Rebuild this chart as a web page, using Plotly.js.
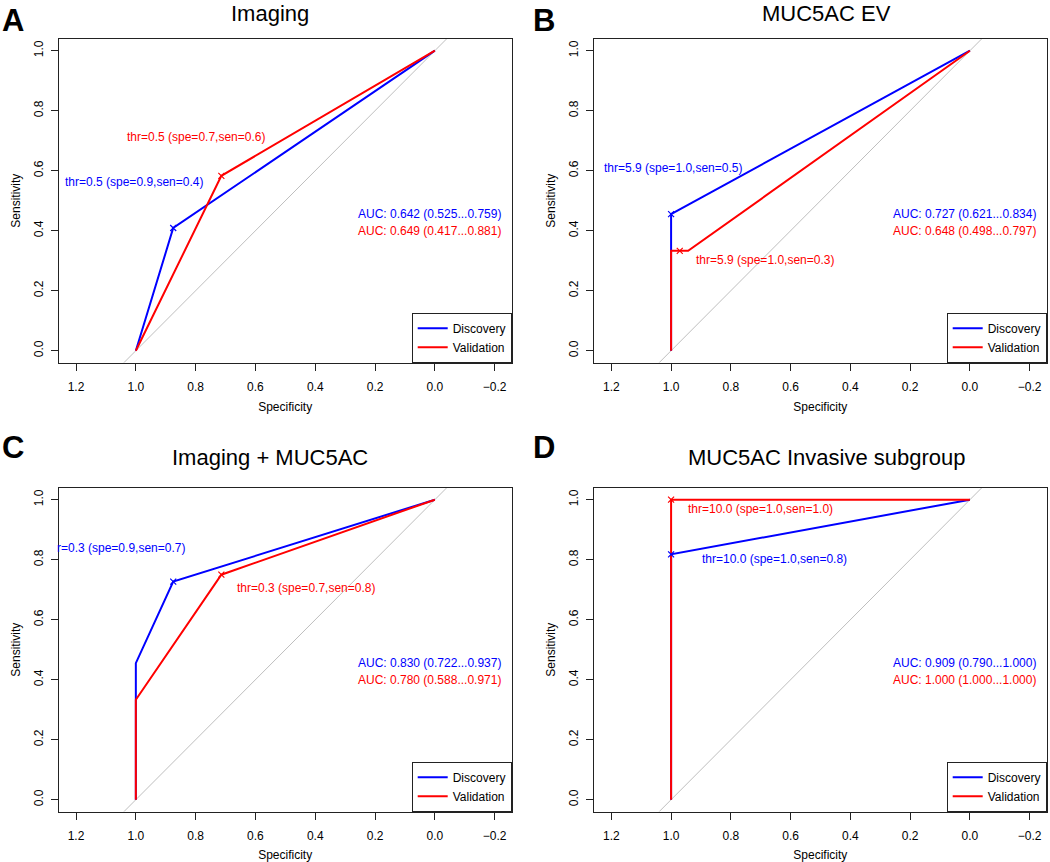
<!DOCTYPE html>
<html>
<head>
<meta charset="utf-8">
<script src="https://cdn.plot.ly/plotly-3.0.1.min.js"></script>
<style>html,body{margin:0;padding:0;background:#fff;}#chart{width:1050px;height:862px;}</style>
</head>
<body>
<div id="chart"></div>
<script>
// ---- data ----
const panelTitles = ["Imaging", "MUC5AC EV", "Imaging + MUC5AC", "MUC5AC Invasive subgroup"];
const panelLetters = ["A", "B", "C", "D"];
const seriesNames = ["Discovery", "Validation"];
const seriesColors = ["#0000FF", "#FF0000"];

// ROC curves (specificity, sensitivity)
const discSpecA = [1, 0.875, 0];
const discSensA = [0, 0.409, 1];
const valSpecA = [1, 0.714, 0];
const valSensA = [0, 0.583, 1];

const discSpecB = [1, 1, 0];
const discSensB = [0, 0.455, 1];
const valSpecB = [1, 1, 0.943, 0];
const valSensB = [0, 0.333, 0.333, 1];

const discSpecC = [1, 1, 0.875, 0];
const discSensC = [0, 0.455, 0.727, 1];
const valSpecC = [1, 1, 0.714, 0];
const valSensC = [0, 0.333, 0.75, 1];

const discSpecD = [1, 1, 0];
const discSensD = [0, 0.818, 1];
const valSpecD = [1, 1, 0];
const valSensD = [0, 1, 1];

// best thresholds [specificity, sensitivity]
const thrDisc = [[0.875, 0.409], [1, 0.455], [0.875, 0.727], [1, 0.818]];
const thrVal = [[0.714, 0.583], [0.971, 0.333], [0.714, 0.75], [1, 1]];
const thrDiscLabels = ["thr=0.5 (spe=0.9,sen=0.4)", "thr=5.9 (spe=1.0,sen=0.5)", "r=0.3 (spe=0.9,sen=0.7)", "thr=10.0 (spe=1.0,sen=0.8)"];
const thrValLabels = ["thr=0.5 (spe=0.7,sen=0.6)", "thr=5.9 (spe=1.0,sen=0.3)", "thr=0.3 (spe=0.7,sen=0.8)", "thr=10.0 (spe=1.0,sen=1.0)"];
const aucDiscLabels = ["AUC: 0.642 (0.525...0.759)", "AUC: 0.727 (0.621...0.834)", "AUC: 0.830 (0.722...0.937)", "AUC: 0.909 (0.790...1.000)"];
const aucValLabels = ["AUC: 0.649 (0.417...0.881)", "AUC: 0.648 (0.498...0.797)", "AUC: 0.780 (0.588...0.971)", "AUC: 1.000 (1.000...1.000)"];

const xTickVals = [1.2, 1.0, 0.8, 0.6, 0.4, 0.2, 0.0, -0.2];
const yTickVals = [0.0, 0.2, 0.4, 0.6, 0.8, 1.0];

// ---- layout geometry (pixels) ----
const W = 1050, H = 862;
const FONT = "Liberation Sans, Arial, Helvetica, sans-serif";
const boxes = [
  {l: 58.7, r: 511.7, t: 38.7, b: 362.7},
  {l: 594, r: 1046.7, t: 38.7, b: 362.7},
  {l: 58.7, r: 511.7, t: 487.7, b: 811.7},
  {l: 594, r: 1046.7, t: 487.7, b: 811.7}
];
// [x, y, yanchor]
const titlePos = [[270.3, 0, "top"], [826.6, 0, "top"], [270.3, 457.8, "middle"], [826.6, 457.8, "middle"]];
const letterPos = [[0, 20], [530.5, 20], [0, 447], [530.5, 447]];
// annotation anchors in data coords
const discLabelPos = [[1.242, 0.564, "left"], [1.230, 0.610, "left"], [0.829, 0.840, "right"], [0.903, 0.802, "left"]];
const valLabelPos = [[1.036, 0.712, "left"], [0.925, 0.303, "left"], [0.668, 0.707, "left"], [0.951, 0.970, "left"]];

const discSpec = [discSpecA, discSpecB, discSpecC, discSpecD];
const discSens = [discSensA, discSensB, discSensC, discSensD];
const valSpec = [valSpecA, valSpecB, valSpecC, valSpecD];
const valSens = [valSensA, valSensB, valSensC, valSensD];

const traces = [];
const layout = {
  width: W, height: H,
  margin: {l: 0, r: 0, t: 0, b: 0},
  paper_bgcolor: "#fff", plot_bgcolor: "#fff",
  font: {family: FONT, size: 12, color: "#000"},
  showlegend: true,
  annotations: [], shapes: []
};

for (let i = 0; i < 4; i++) {
  const s = i === 0 ? "" : String(i + 1);
  const xa = "x" + s, ya = "y" + s;
  const lg = "legend" + s;
  const bx = boxes[i];

  layout["xaxis" + s] = {
    domain: [bx.l / W, bx.r / W], anchor: ya,
    range: [1.258, -0.257], autorange: false,
    tickvals: xTickVals, tickformat: ".1f",
    ticks: "outside", ticklen: 7, tickwidth: 1, tickcolor: "#222",
    ticklabelstandoff: 6,
    showline: true, mirror: true, linecolor: "#222", linewidth: 1,
    showgrid: false, zeroline: false,
    tickfont: {family: FONT, size: 12, color: "#000"},
    title: {text: "Specificity", font: {family: FONT, size: 12, color: "#000"}, standoff: 9}
  };
  layout["yaxis" + s] = {
    domain: [1 - bx.b / H, 1 - bx.t / H], anchor: xa,
    range: [-0.04, 1.04], autorange: false,
    tickvals: yTickVals, tickformat: ".1f", tickangle: -90,
    ticks: "outside", ticklen: 7, tickwidth: 1, tickcolor: "#222",
    ticklabelstandoff: 3,
    showline: true, mirror: true, linecolor: "#222", linewidth: 1,
    showgrid: false, zeroline: false,
    tickfont: {family: FONT, size: 12, color: "#000"},
    title: {text: "Sensitivity", font: {family: FONT, size: 12, color: "#000"}, standoff: 8}
  };

  // chance diagonal
  layout.shapes.push({
    type: "line", xref: xa, yref: ya, layer: "below",
    x0: 1.04, y0: -0.04, x1: -0.04, y1: 1.04,
    line: {color: "#BEBEBE", width: 1}
  });

  // ROC curves
  traces.push({
    type: "scatter", mode: "lines", x: discSpec[i], y: discSens[i],
    xaxis: xa, yaxis: ya, name: seriesNames[0], legend: lg,
    line: {color: seriesColors[0], width: 2}, hoverinfo: "skip"
  });
  traces.push({
    type: "scatter", mode: "lines", x: valSpec[i], y: valSens[i],
    xaxis: xa, yaxis: ya, name: seriesNames[1], legend: lg,
    line: {color: seriesColors[1], width: 2}, hoverinfo: "skip"
  });
  // threshold markers
  traces.push({
    type: "scatter", mode: "markers", x: [thrDisc[i][0]], y: [thrDisc[i][1]],
    xaxis: xa, yaxis: ya, showlegend: false, legend: lg,
    marker: {symbol: "x-thin-open", size: 6, color: seriesColors[0], line: {color: seriesColors[0], width: 1.2}}
  });
  traces.push({
    type: "scatter", mode: "markers", x: [thrVal[i][0]], y: [thrVal[i][1]],
    xaxis: xa, yaxis: ya, showlegend: false, legend: lg,
    marker: {symbol: "x-thin-open", size: 6, color: seriesColors[1], line: {color: seriesColors[1], width: 1.2}}
  });

  // legend
  layout[lg] = {
    x: bx.r / W, y: 1 - bx.b / H, xanchor: "right", yanchor: "bottom",
    xref: "paper", yref: "paper",
    bgcolor: "#fff", bordercolor: "#222", borderwidth: 1,
    font: {family: FONT, size: 12, color: "#000"},
    itemwidth: 30, tracegroupgap: 0
  };

  // threshold labels
  layout.annotations.push({
    xref: xa, yref: ya, x: discLabelPos[i][0], y: discLabelPos[i][1],
    xanchor: discLabelPos[i][2], yanchor: "middle", showarrow: false,
    text: thrDiscLabels[i], font: {family: FONT, size: 12, color: seriesColors[0]}
  });
  layout.annotations.push({
    xref: xa, yref: ya, x: valLabelPos[i][0], y: valLabelPos[i][1],
    xanchor: valLabelPos[i][2], yanchor: "middle", showarrow: false,
    text: thrValLabels[i], font: {family: FONT, size: 12, color: seriesColors[1]}
  });
  // AUC labels
  layout.annotations.push({
    xref: xa, yref: ya, x: 0.263, y: 0.456, xanchor: "left", yanchor: "middle", showarrow: false,
    text: aucDiscLabels[i], font: {family: FONT, size: 12, color: seriesColors[0]}
  });
  layout.annotations.push({
    xref: xa, yref: ya, x: 0.263, y: 0.399, xanchor: "left", yanchor: "middle", showarrow: false,
    text: aucValLabels[i], font: {family: FONT, size: 12, color: seriesColors[1]}
  });
  // panel title
  layout.annotations.push({
    xref: "paper", yref: "paper", x: titlePos[i][0] / W, y: 1 - titlePos[i][1] / H,
    xanchor: "center", yanchor: titlePos[i][2], showarrow: false, borderpad: 0,
    text: panelTitles[i], font: {family: FONT, size: 22, color: "#000"}
  });
  // panel letter
  layout.annotations.push({
    xref: "paper", yref: "paper", x: letterPos[i][0] / W, y: 1 - letterPos[i][1] / H,
    xanchor: "left", yanchor: "middle", showarrow: false,
    text: "<b>" + panelLetters[i] + "</b>", font: {family: FONT, size: 31, color: "#000"}
  });
}

Plotly.newPlot("chart", traces, layout, {displayModeBar: false, staticPlot: true});
</script>
</body>
</html>
